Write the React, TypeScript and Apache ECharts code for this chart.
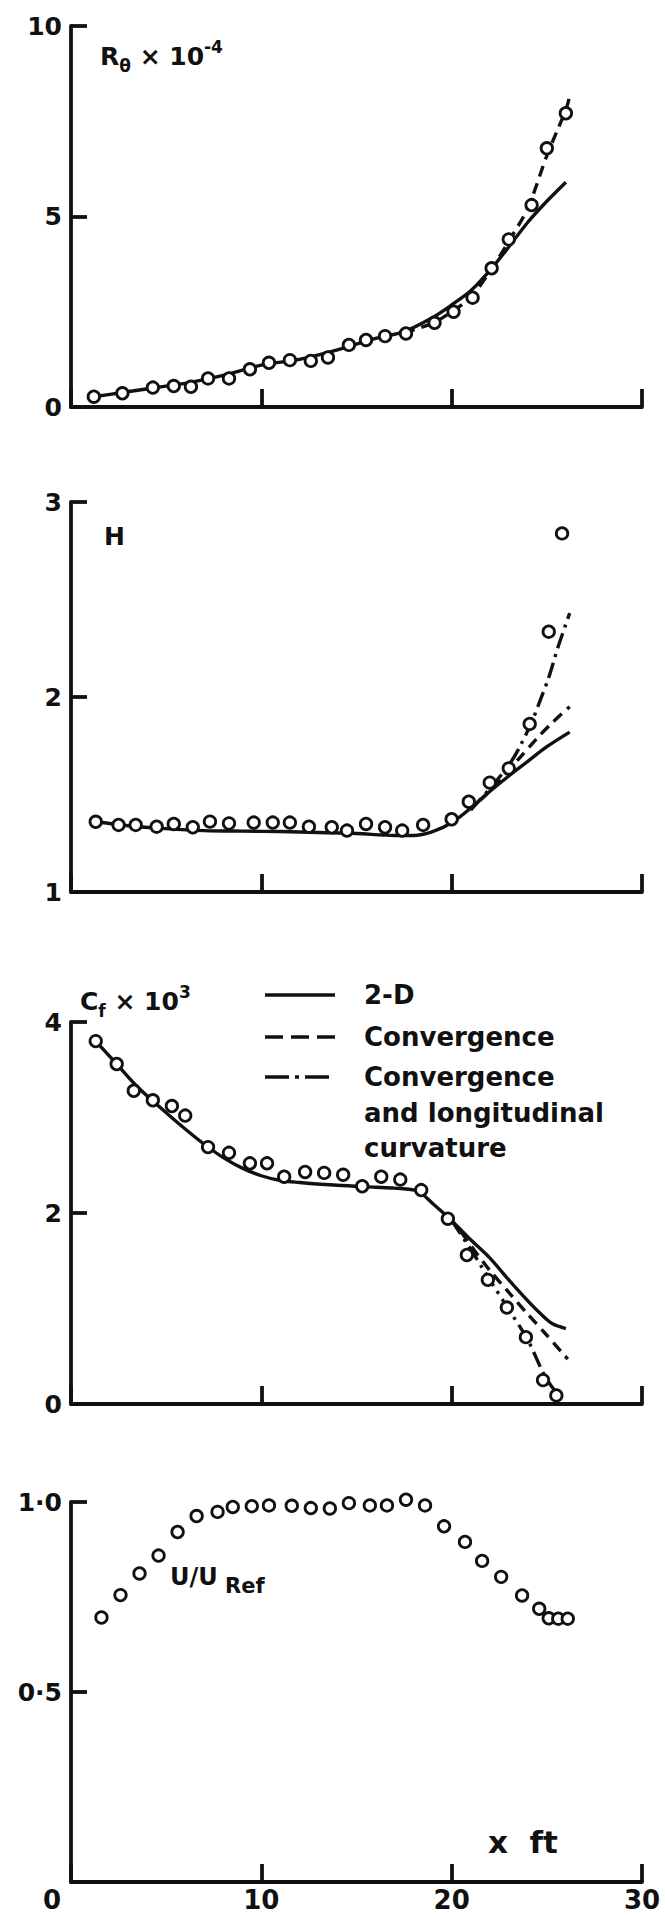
import React, { useEffect, useRef } from 'react';
import * as echarts from 'echarts';

const INK = '#111111';
const FONT = '"DejaVu Sans", "Noto Sans", sans-serif';

// Streamwise distance, x ft
const xTicks = [0, 10, 20, 30];

// Panel 1: momentum-thickness Reynolds number, R_theta x 10^-4
const rthX = [1.2, 2.7, 4.3, 5.4, 6.3, 7.2, 8.3, 9.4, 10.4, 11.5, 12.6, 13.5, 14.6, 15.5, 16.5, 17.6, 19.1, 20.1, 21.1, 22.1, 23.0, 24.2, 25.0, 26.0];
const rthMeasured = [0.27, 0.36, 0.51, 0.55, 0.53, 0.75, 0.75, 0.99, 1.16, 1.23, 1.21, 1.3, 1.63, 1.76, 1.86, 1.93, 2.21, 2.5, 2.87, 3.64, 4.4, 5.3, 6.79, 7.71];
const rth2dX = [1.2, 2.7, 4.3, 6, 8, 10, 12, 14, 16, 17.5, 19, 20, 21, 22, 23, 24, 25, 26];
const rth2dY = [0.27, 0.38, 0.5, 0.62, 0.83, 1.1, 1.25, 1.5, 1.8, 1.98, 2.35, 2.68, 3.05, 3.58, 4.2, 4.85, 5.4, 5.9];
const rthConvX = [17.5, 19, 20, 21, 22, 23, 24, 25, 25.5, 26, 26.2];
const rthConvY = [1.95, 2.2, 2.5, 2.88, 3.55, 4.35, 5.22, 6.6, 7.2, 7.8, 8.15];
const rthTicks = [0, 5, 10];

// Panel 2: shape factor H
const hX = [1.3, 2.5, 3.4, 4.5, 5.4, 6.4, 7.3, 8.3, 9.6, 10.6, 11.5, 12.5, 13.7, 14.5, 15.5, 16.5, 17.4, 18.5, 20.0, 20.9, 22.0, 23.0, 24.1, 25.1, 25.8];
const hMeasured = [1.36, 1.344, 1.344, 1.335, 1.349, 1.332, 1.361, 1.352, 1.356, 1.356, 1.356, 1.335, 1.332, 1.315, 1.349, 1.332, 1.315, 1.344, 1.373, 1.463, 1.561, 1.634, 1.862, 2.335, 2.839];
const h2dX = [1.3, 3, 5, 7, 9, 11, 13, 15, 17, 18, 19, 20, 21, 22, 23, 24, 25, 26.2];
const h2dY = [1.36, 1.34, 1.325, 1.315, 1.312, 1.31, 1.305, 1.3, 1.29, 1.29, 1.31, 1.355, 1.43, 1.515, 1.595, 1.67, 1.745, 1.82];
const hConvX = [21.5, 22.5, 23.5, 24.5, 25.3, 26.2];
const hConvY = [1.47, 1.57, 1.68, 1.79, 1.87, 1.95];
const hCurvX = [21, 22, 23, 23.5, 24.2, 24.6, 25.1, 25.6, 26.2];
const hCurvY = [1.42, 1.53, 1.65, 1.73, 1.87, 1.97, 2.1, 2.26, 2.43];
const hTicks = [1, 2, 3];

// Panel 3: skin-friction coefficient, Cf x 10^3
const cfX = [1.3, 2.4, 3.3, 4.3, 5.3, 6.0, 7.2, 8.3, 9.4, 10.3, 11.2, 12.3, 13.3, 14.3, 15.3, 16.3, 17.3, 18.4, 19.8, 20.8, 21.9, 22.9, 23.9, 24.8, 25.5];
const cfMeasured = [3.8, 3.56, 3.28, 3.18, 3.12, 3.02, 2.69, 2.63, 2.52, 2.52, 2.38, 2.43, 2.42, 2.4, 2.28, 2.38, 2.35, 2.24, 1.94, 1.56, 1.3, 1.01, 0.7, 0.25, 0.09];
const cf2dX = [1.3, 2.4, 3.5, 5, 6, 7, 8, 9, 10, 11, 12, 14, 16, 17, 18.2, 19, 20, 21, 22, 23, 24, 24.7, 25.3, 26];
const cf2dY = [3.8, 3.56, 3.32, 3.05, 2.88, 2.72, 2.58, 2.47, 2.39, 2.34, 2.32, 2.29, 2.27, 2.26, 2.23, 2.1, 1.92, 1.72, 1.53, 1.3, 1.08, 0.94, 0.84, 0.79];
const cfConvX = [20.5, 21, 22, 23, 24, 25, 26.1];
const cfConvY = [1.8, 1.66, 1.4, 1.17, 0.94, 0.72, 0.47];
const cfCurvX = [20, 21, 22, 23, 24, 24.8, 25.3, 25.75];
const cfCurvY = [1.92, 1.62, 1.3, 0.99, 0.67, 0.33, 0.17, 0.07];
const cfTicks = [0, 2, 4];

// Panel 4: velocity ratio U/U_Ref
const uX = [1.6, 2.6, 3.6, 4.6, 5.6, 6.6, 7.7, 8.5, 9.5, 10.4, 11.6, 12.6, 13.6, 14.6, 15.7, 16.6, 17.6, 18.6, 19.6, 20.7, 21.6, 22.6, 23.7, 24.6, 25.1, 25.6, 26.1];
const uMeasured = [0.696, 0.755, 0.812, 0.859, 0.921, 0.963, 0.974, 0.987, 0.989, 0.991, 0.99, 0.984, 0.983, 0.997, 0.991, 0.991, 1.006, 0.991, 0.936, 0.895, 0.845, 0.803, 0.754, 0.719, 0.694, 0.693, 0.693];
const uTicks = [0, 0.5, 1];

// Theory curves
const seriesNames = ['2-D', 'Convergence', 'Convergence and longitudinal curvature'];
const legendLines = [['2-D'], ['Convergence'], ['Convergence', 'and longitudinal', 'curvature']];

// Layout of the four stacked panels (pixels)
const GRID_LEFT = 71;
const GRID_WIDTH = 571;
const panelTop = [26, 502, 1022, 1502];
const panelHeight = [381, 390, 382, 380];

const DASHED = [11, 7];
const DASH_DOT = [16, 6, 3, 6];

const pts = (xs: number[], ys: number[]) => xs.map((x, i) => [x, ys[i]]);

const lineSeries = (name: string, xs: number[], ys: number[], idx: number, dash: any) => ({
  type: 'line',
  name,
  xAxisIndex: idx,
  yAxisIndex: idx,
  data: pts(xs, ys),
  symbol: 'none',
  showSymbol: false,
  smooth: 0.3,
  silent: true,
  clip: false,
  z: 2,
  lineStyle: { color: INK, width: 3.4, type: dash, opacity: 1 },
});

const scatterSeries = (name: string, xs: number[], ys: number[], idx: number) => ({
  type: 'scatter',
  name,
  xAxisIndex: idx,
  yAxisIndex: idx,
  data: pts(xs, ys),
  symbol: 'circle',
  symbolSize: 11.5,
  silent: true,
  clip: false,
  z: 4,
  itemStyle: { color: '#ffffff', borderColor: INK, borderWidth: 2.8, opacity: 1 },
});

const fmtTick = (v: number) => (Number.isInteger(v) ? String(v) : v.toFixed(1).replace('.', '\u00b7'));

const yAxisFor = (ticks: number[], idx: number, hideZero: boolean) => ({
  type: 'value',
  gridIndex: idx,
  min: ticks[0],
  max: ticks[ticks.length - 1],
  interval: ticks[1] - ticks[0],
  axisLine: { show: true, lineStyle: { color: INK, width: 3.8 } },
  axisTick: { show: true, inside: true, length: 16, lineStyle: { color: INK, width: 3.8 } },
  splitLine: { show: false },
  axisLabel: {
    margin: 9,
    color: INK,
    fontFamily: FONT,
    fontWeight: 'bold',
    fontSize: 25,
    formatter: (v: number) => {
      if (v === 1 && ticks[ticks.length - 1] === 1) return '1\u00b70';
      if (hideZero && v === 0) return '';
      return fmtTick(v);
    },
  },
});

const xAxisFor = (idx: number, labelled: boolean) => ({
  type: 'value',
  gridIndex: idx,
  min: xTicks[0],
  max: xTicks[xTicks.length - 1],
  interval: xTicks[1] - xTicks[0],
  axisLine: { show: true, lineStyle: { color: INK, width: 3.8 } },
  axisTick: { show: true, inside: true, length: 18, lineStyle: { color: INK, width: 3.8 } },
  splitLine: { show: false },
  axisLabel: {
    show: labelled,
    margin: 5,
    color: INK,
    fontFamily: FONT,
    fontWeight: 'bold',
    fontSize: 26,
    formatter: (v: number) => (v === 0 ? '{z|0}' : String(v)),
    rich: {
      z: { fontFamily: FONT, fontWeight: 'bold', fontSize: 26, color: INK, padding: [0, 38, 0, 0] },
    },
  },
});

const tok = (size: number, va: string, lh?: number) => {
  const s: any = { fontFamily: FONT, fontWeight: 'bold', fontSize: size, fill: INK, verticalAlign: va };
  if (lh) s.lineHeight = lh;
  return s;
};

const labelText = (x: number, y: number, text: string, rich?: any, size = 26) => ({
  type: 'text',
  x,
  y,
  silent: true,
  style: {
    text,
    fill: INK,
    fontFamily: FONT,
    fontWeight: 'bold',
    fontSize: size,
    align: 'left',
    verticalAlign: 'middle',
    rich,
  },
});

const buildGraphic = () => {
  const g: any[] = [];
  const labelRich = {
    b: tok(25, 'middle', 36),
    s: tok(17, 'bottom'),
    p: tok(17, 'top'),
  };
  g.push(labelText(100, 56, '{b|R}{s|\u03b8}{b| \u00d7 10}{p|-4}', labelRich));
  g.push(labelText(104, 536, 'H', undefined, 25));
  g.push(labelText(80, 1001, '{b|C}{s|f}{b| \u00d7 10}{p|3}', labelRich));
  g.push(labelText(170, 1577, '{b|U/U}{s| Ref}', { b: tok(24, 'middle', 38), s: tok(21, 'bottom') }));
  g.push(labelText(488, 1842, 'x  ft', undefined, 31));

  // Key for the theory curves
  const keyY = [995, 1037, 1077];
  const dashes: any[] = [null, [18, 8], [24, 6, 4, 6]];
  keyY.forEach((y, i) => {
    g.push({
      type: 'line',
      silent: true,
      shape: { x1: 265, y1: y, x2: 335, y2: y },
      style: { stroke: INK, lineWidth: 3.4, lineDash: dashes[i] || undefined },
    });
  });
  const textY = [[995], [1037], [1077, 1113, 1148]];
  legendLines.forEach((lines, i) => {
    lines.forEach((t, j) => {
      g.push(labelText(364, textY[i][j], t, undefined, 26));
    });
  });
  return g;
};

export default function App() {
  const ref = useRef<HTMLDivElement>(null);

  useEffect(() => {
    if (!ref.current) return;
    const chart = echarts.init(ref.current, undefined, { renderer: 'svg' });
    const option: any = {
      animation: false,
      backgroundColor: '#ffffff',
      grid: panelTop.map((top, i) => ({
        left: GRID_LEFT,
        top,
        width: GRID_WIDTH,
        height: panelHeight[i],
        containLabel: false,
      })),
      xAxis: [0, 1, 2, 3].map((i) => xAxisFor(i, i === 3)),
      yAxis: [
        yAxisFor(rthTicks, 0, false),
        yAxisFor(hTicks, 1, false),
        yAxisFor(cfTicks, 2, false),
        yAxisFor(uTicks, 3, true),
      ],
      series: [
        lineSeries(seriesNames[0], rth2dX, rth2dY, 0, 'solid'),
        lineSeries(seriesNames[1], rthConvX, rthConvY, 0, DASHED),
        scatterSeries('R_theta', rthX, rthMeasured, 0),

        lineSeries(seriesNames[0], h2dX, h2dY, 1, 'solid'),
        lineSeries(seriesNames[1], hConvX, hConvY, 1, DASHED),
        lineSeries(seriesNames[2], hCurvX, hCurvY, 1, DASH_DOT),
        scatterSeries('H', hX, hMeasured, 1),

        lineSeries(seriesNames[0], cf2dX, cf2dY, 2, 'solid'),
        lineSeries(seriesNames[1], cfConvX, cfConvY, 2, DASHED),
        lineSeries(seriesNames[2], cfCurvX, cfCurvY, 2, DASH_DOT),
        scatterSeries('Cf', cfX, cfMeasured, 2),

        scatterSeries('U/U_Ref', uX, uMeasured, 3),
      ],
      graphic: buildGraphic(),
    };
    chart.setOption(option);
    return () => chart.dispose();
  }, []);

  return (
    <div
      ref={ref}
      style={{ position: 'absolute', left: 0, top: 0, width: 665, height: 1915, background: '#fff' }}
    />
  );
}
